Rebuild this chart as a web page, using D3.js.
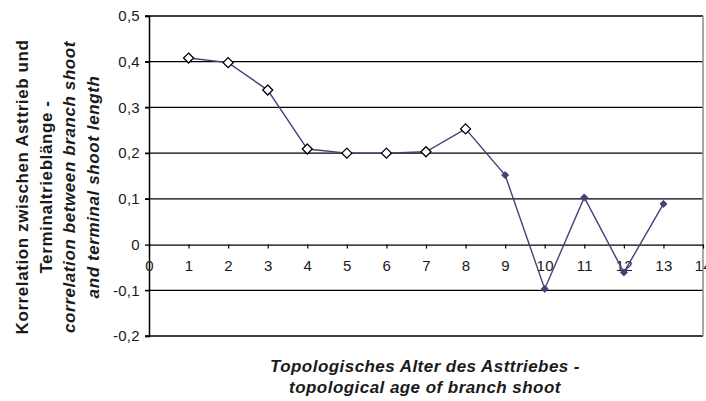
<!DOCTYPE html>
<html>
<head>
<meta charset="utf-8">
<script src="https://cdn.jsdelivr.net/npm/d3@7"></script>
<style>
  html, body { margin: 0; padding: 0; background: #fff; }
  svg { display: block; font-family: "Liberation Sans", Arial, sans-serif; }
</style>
</head>
<body>
<div id="chart"></div>
<script>
// topological age of branch shoot vs. correlation
const ages = [1, 2, 3, 4, 5, 6, 7, 8, 9, 10, 11, 12, 13];
const correlation = [0.408, 0.398, 0.338, 0.209, 0.2, 0.2, 0.203, 0.253, 0.152, -0.097, 0.103, -0.061, 0.089];
const markerKind = ['open', 'open', 'open', 'open', 'open', 'open', 'open', 'open', 'solid', 'solid', 'solid', 'solid', 'solid'];

const xTicks = [0, 1, 2, 3, 4, 5, 6, 7, 8, 9, 10, 11, 12, 13, 14];
const yTicks = [0.5, 0.4, 0.3, 0.2, 0.1, 0, -0.1, -0.2];
const yTickLabels = ['0,5', '0,4', '0,3', '0,2', '0,1', '0', '-0,1', '-0,2'];

const yTitle = [
  'Korrelation zwischen Asttrieb und',
  'Terminaltrieblänge -',
  'correlation between branch shoot',
  'and terminal shoot length'
];
const xTitle = ['Topologisches Alter des Asttriebes -', 'topological age of branch shoot'];

const width = 706, height = 401;
const m = { left: 149, right: 703, top: 16, bottom: 336 };
const lineColor = '#4a3d78';
const font = '"Liberation Sans", Arial, sans-serif';

const svg = d3.select('#chart').append('svg')
  .attr('width', width)
  .attr('height', height);

const x = d3.scaleLinear().domain([0, 14]).range([m.left, m.right]);
const y = d3.scaleLinear().domain([-0.2, 0.5]).range([m.bottom, m.top]);

// Gridlines (also top/bottom frame)
svg.append('g')
  .selectAll('line')
  .data(yTicks.filter(d => d !== 0))
  .join('line')
  .attr('x1', m.left - 4)
  .attr('x2', m.right)
  .attr('y1', d => y(d))
  .attr('y2', d => y(d))
  .attr('stroke', '#000')
  .attr('stroke-width', 1.3);

// right frame
svg.append('line')
  .attr('x1', m.right).attr('x2', m.right)
  .attr('y1', m.top).attr('y2', m.bottom)
  .attr('stroke', '#8a8a8a')
  .attr('stroke-width', 1.5);

// Y axis
const yAxis = svg.append('g')
  .attr('transform', `translate(${m.left},0)`)
  .call(d3.axisLeft(y).tickValues(yTicks).tickSize(4)
    .tickFormat((d, i) => yTickLabels[i]));
yAxis.select('.domain').attr('stroke', '#000').attr('stroke-width', 1.5);
yAxis.selectAll('.tick line').attr('stroke', '#000').attr('stroke-width', 1.3);
yAxis.selectAll('.tick text')
  .attr('x', -9)
  .attr('font-size', 15)
  .attr('font-family', font)
  .attr('letter-spacing', 0.3)
  .attr('fill', '#1a1a1a');

// X axis on the zero line
const xAxis = svg.append('g')
  .attr('transform', `translate(0,${y(0)})`)
  .call(d3.axisBottom(x).tickValues(xTicks).tickSize(4).tickSizeOuter(0));
xAxis.select('.domain').attr('stroke', '#000').attr('stroke-width', 1.3);
xAxis.selectAll('.tick line').attr('stroke', '#000').attr('stroke-width', 1.2);
xAxis.selectAll('.tick text')
  .attr('y', 16)
  .attr('font-size', 15)
  .attr('font-family', font)
  .attr('letter-spacing', 0.3)
  .attr('fill', '#1a1a1a');

// Series line
const line = d3.line()
  .x((d, i) => x(ages[i]))
  .y(d => y(d));

svg.append('path')
  .datum(correlation)
  .attr('d', line)
  .attr('fill', 'none')
  .attr('stroke', lineColor)
  .attr('stroke-width', 1.4);

// Markers
const points = ages.map((a, i) => ({ age: a, value: correlation[i], kind: markerKind[i] }));
svg.append('g')
  .selectAll('path')
  .data(points)
  .join('path')
  .attr('transform', d => `translate(${x(d.age)},${y(d.value)})`)
  .attr('d', d => {
    const r = d.kind === 'open' ? 5 : 3.6;
    return `M0,${-r}L${r},0L0,${r}L${-r},0Z`;
  })
  .attr('fill', d => d.kind === 'open' ? '#fff' : lineColor)
  .attr('stroke', d => d.kind === 'open' ? '#000' : lineColor)
  .attr('stroke-width', d => d.kind === 'open' ? 1.3 : 0.8);

// Y axis title
const yT = svg.append('text')
  .attr('transform', 'translate(0,187) rotate(-90)')
  .attr('text-anchor', 'middle')
  .attr('font-weight', 'bold')
  .attr('font-size', 17)
  .attr('letter-spacing', 0.6)
  .attr('fill', '#1a1a1a');
yT.selectAll('tspan')
  .data(yTitle)
  .join('tspan')
  .attr('x', 0)
  .attr('y', (d, i) => 28 + i * 23.5)
  .attr('font-style', (d, i) => i >= 2 ? 'italic' : 'normal')
  .text(d => d);

// X axis title
const xT = svg.append('text')
  .attr('text-anchor', 'middle')
  .attr('font-weight', 'bold')
  .attr('font-style', 'italic')
  .attr('font-size', 17)
  .attr('letter-spacing', 0.45)
  .attr('fill', '#1a1a1a');
xT.selectAll('tspan')
  .data(xTitle)
  .join('tspan')
  .attr('x', 425)
  .attr('y', (d, i) => 372 + i * 21)
  .text(d => d);
</script>
</body>
</html>
